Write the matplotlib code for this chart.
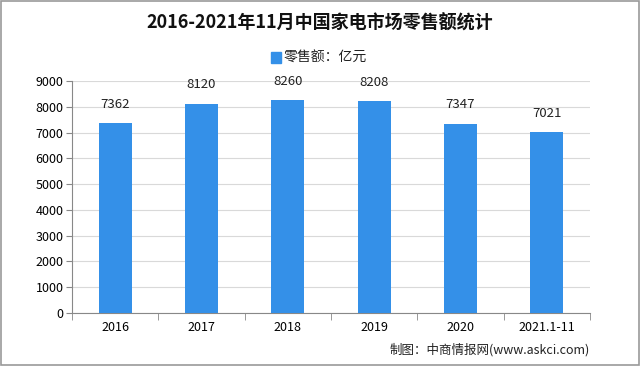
import matplotlib
matplotlib.use("Agg")
import matplotlib.pyplot as plt
from matplotlib.patches import Rectangle

plt.rcParams['font.family'] = ['Noto Sans CJK SC', 'DejaVu Sans']

categories = ["2016", "2017", "2018", "2019", "2020", "2021.1-11"]
values = [7362, 8120, 8260, 8208, 7347, 7021]
yticks = [0, 1000, 2000, 3000, 4000, 5000, 6000, 7000, 8000, 9000]

bar_color = "#3490E8"

fig = plt.figure(figsize=(6.4, 3.66), dpi=100)
ax = fig.add_axes([72/640, 1-313/366, (590-72)/640, (313-81)/366])

x = list(range(len(categories)))
ax.bar(x, values, width=0.38, color=bar_color, zorder=3)
for xi, v in zip(x, values):
    ax.text(xi, v + 480, str(v), ha="center", va="bottom", fontsize=9.5, color="#222222")

ax.set_xlim(-0.5, len(categories) - 0.5)
ax.set_ylim(0, 9000)
ax.set_yticks(yticks)
ax.set_yticklabels([str(t) for t in yticks], fontsize=9)
ax.yaxis.grid(True, color="#D9D9D9", linewidth=0.8, zorder=0)
ax.set_xticks(x)
ax.set_xticklabels(categories, fontsize=9)
ax.tick_params(axis="x", length=0, pad=6)
ax.set_xticks([i - 0.5 for i in range(len(categories) + 1)], minor=True)
ax.tick_params(axis="x", which="minor", length=5, color="#888888")
ax.tick_params(axis="y", length=4, color="#888888", pad=2)
for s in ["top", "right"]:
    ax.spines[s].set_visible(False)
ax.spines["left"].set_color("#888888")
ax.spines["bottom"].set_color("#888888")

fig.text(0.5, 1-23/366, "2016-2021年11月中国家电市场零售额统计", ha="center", va="center",
         fontsize=13, fontweight="bold", color="#111111")
fig.patches.append(Rectangle((271/640, 1-63/366), 10/640, 11/366, transform=fig.transFigure,
                             color=bar_color))
fig.text(284/640, 1-58/366, "零售额：亿元", ha="left", va="center", fontsize=10, color="#222222")
fig.text(590/640, 1-350/366, "制图：中商情报网(www.askci.com)", ha="right", va="center",
         fontsize=9, color="#222222")

fig.patches.append(Rectangle((1/640, 1/366), 638/640, 364/366, transform=fig.transFigure,
                             fill=False, edgecolor="#999999", linewidth=1.2))

fig.savefig("out.png", dpi=100)
